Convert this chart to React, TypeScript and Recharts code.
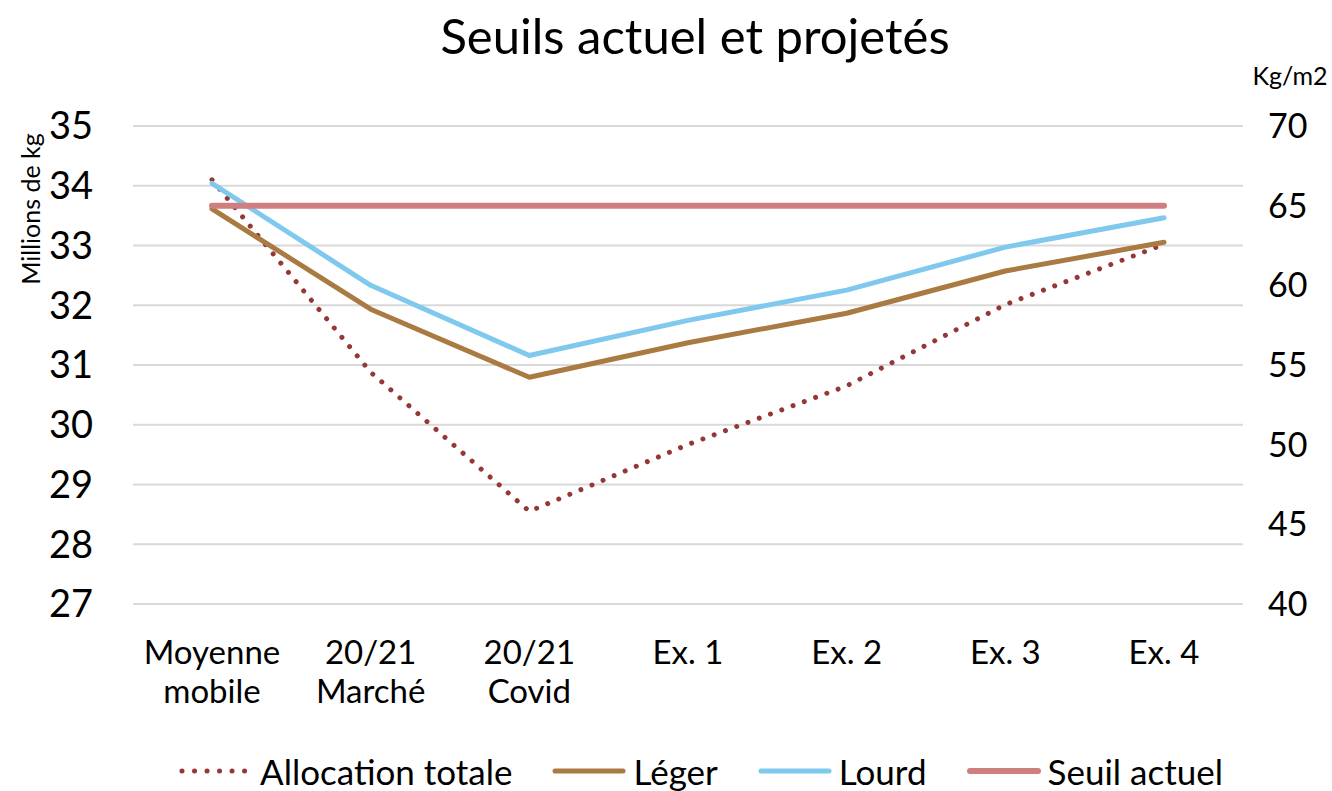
import { LineChart, Line, XAxis, YAxis, CartesianGrid, Legend } from 'recharts';

const categories = ['Moyenne\nmobile', '20/21\nMarché', '20/21\nCovid', 'Ex. 1', 'Ex. 2', 'Ex. 3', 'Ex. 4'];
const allocationTotale = [34.1, 30.88, 28.55, 29.67, 30.65, 32.01, 33.02];
const leger = [64.8, 58.5, 54.23, 56.4, 58.25, 60.9, 62.7];
const lourd = [66.4, 60.0, 55.6, 57.8, 59.7, 62.4, 64.24];
const seuilActuel = [65, 65, 65, 65, 65, 65, 65];
const leftTicks = [27, 28, 29, 30, 31, 32, 33, 34, 35];
const rightTicks = [40, 45, 50, 55, 60, 65, 70];

const data = categories.map((cat, i) => ({
  cat,
  allocation: allocationTotale[i],
  leger: leger[i],
  lourd: lourd[i],
  seuil: seuilActuel[i],
}));

const FONT = 'Lato, "Open Sans", sans-serif';

const series = [
  { key: 'allocation', name: 'Allocation totale', color: '#953735', dotted: true, width: 5 },
  { key: 'leger', name: 'Léger', color: '#A97B42', dotted: false, width: 5 },
  { key: 'lourd', name: 'Lourd', color: '#7FC8EE', dotted: false, width: 5 },
  { key: 'seuil', name: 'Seuil actuel', color: '#CF7F7F', dotted: false, width: 6 },
];

function CategoryTick({ x, y, payload }: any) {
  const lines = String(payload.value).split('\n');
  return (
    <text x={x} y={y + 58} textAnchor="middle" fill="#000" fontSize={33} fontFamily={FONT}>
      {lines.map((l, i) => (
        <tspan key={i} x={x} dy={i === 0 ? 0 : 39}>
          {l}
        </tspan>
      ))}
    </text>
  );
}

function LegendContent() {
  return (
    <div
      style={{
        display: 'flex',
        justifyContent: 'center',
        alignItems: 'center',
        gap: 40,
        fontFamily: FONT,
        fontSize: 35,
        color: '#000',
        paddingLeft: 70,
        paddingTop: 8,
        height: 57,
      }}
    >
      {series.map((s) => (
        <div key={s.key} style={{ display: 'flex', alignItems: 'center', gap: 7 }}>
          <svg width={74} height={10}>
            <line
              x1={3}
              y1={5}
              x2={71}
              y2={5}
              stroke={s.color}
              strokeWidth={s.dotted ? 5 : s.width}
              strokeDasharray={s.dotted ? '0.01 12.5' : undefined}
              strokeLinecap="round"
            />
          </svg>
          <span>{s.name}</span>
        </div>
      ))}
    </div>
  );
}

export default function App() {
  return (
    <div style={{ position: 'absolute', left: 0, top: 0, width: 1332, height: 791, background: '#fff', fontFamily: FONT }}>
      <div style={{ position: 'absolute', left: 29, top: 6, width: 1332, textAlign: 'center', fontSize: 49, lineHeight: '58px' }}>
        Seuils actuel et projetés
      </div>
      <div
        style={{
          position: 'absolute',
          left: 30,
          top: 209,
          transform: 'translate(-50%, -50%) rotate(-90deg)',
          whiteSpace: 'nowrap',
          fontSize: 25,
        }}
      >
        Millions de kg
      </div>
      <div style={{ position: 'absolute', left: 1290, top: 75, transform: 'translate(-50%, -50%)', fontSize: 25 }}>
        Kg/m2
      </div>
      <LineChart width={1332} height={791} data={data} margin={{ top: 126, right: 0, bottom: 0, left: 0 }}>
        <CartesianGrid yAxisId="left" vertical={false} stroke="#d9d9d9" strokeWidth={2} />
        <XAxis
          dataKey="cat"
          axisLine={false}
          tickLine={false}
          tickSize={0}
          height={130}
          interval={0}
          padding={{ left: 79, right: 79 }}
          tick={<CategoryTick />}
        />
        <YAxis
          yAxisId="left"
          domain={[27, 35]}
          ticks={leftTicks}
          axisLine={false}
          tickLine={false}
          tickSize={0}
          tickMargin={40}
          width={133}
          tick={{ fontSize: 38, fill: '#000', fontFamily: FONT }}
        />
        <YAxis
          yAxisId="right"
          orientation="right"
          domain={[40, 70]}
          ticks={rightTicks}
          axisLine={false}
          tickLine={false}
          tickSize={0}
          tickMargin={25}
          width={89}
          tick={{ fontSize: 34, fill: '#000', fontFamily: FONT }}
        />
        <Legend verticalAlign="bottom" height={57} content={<LegendContent />} />
        {series.map((s) => (
          <Line
            key={s.key}
            yAxisId={s.key === 'allocation' ? 'left' : 'right'}
            dataKey={s.key}
            name={s.name}
            stroke={s.color}
            strokeWidth={s.dotted ? 5 : s.width}
            strokeDasharray={s.dotted ? '0.01 12' : undefined}
            strokeLinecap="round"
            strokeLinejoin="round"
            dot={false}
            activeDot={false}
            type="linear"
            isAnimationActive={false}
          />
        ))}
      </LineChart>
    </div>
  );
}
